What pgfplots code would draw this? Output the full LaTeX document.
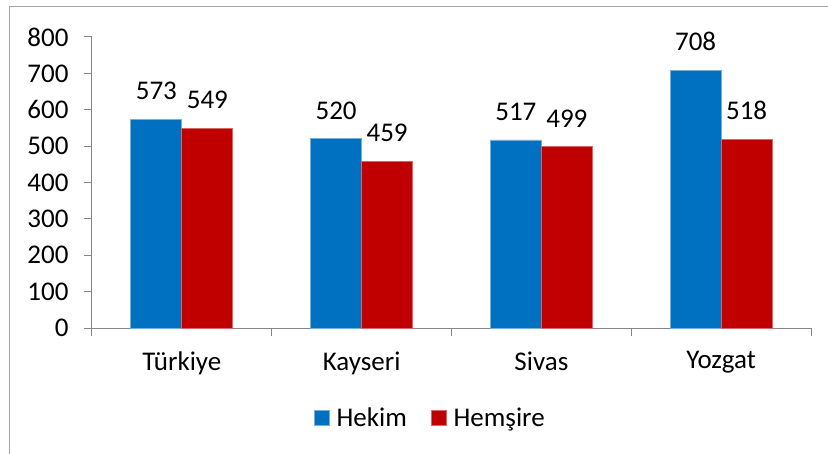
\documentclass[border=0pt]{standalone}
\usepackage{pgfplots}
\pgfplotsset{compat=1.18}
\usepackage{fontspec}
\setmainfont{Carlito}
\definecolor{hblue}{HTML}{0070C0}
\definecolor{hred}{HTML}{C00000}
\definecolor{axgray}{HTML}{868686}
\newcommand{\cfont}{\fontsize{27bp}{32bp}\selectfont}
\begin{document}
\begin{tikzpicture}
\begin{axis}[
  name=ax,
  width=719bp, height=291bp, scale only axis,
  xmin=-0.5, xmax=3.5, ymin=0, ymax=800,
  axis x line*=bottom, axis y line*=left,
  axis line style={axgray, line width=1bp},
  ytick={0,100,...,800},
  xtick={-0.5,0.5,1.5,2.5,3.5},
  x tick label as interval,
  xticklabels={Türkiye,Kayseri,Sivas,Yozgat},
  tick align=outside, major tick length=8bp,
  tick style={axgray, line width=1bp},
  /pgf/number format/assume math mode=true,
  tick label style={font=\cfont, black},
  y tick label style={xshift=-12bp},
  x tick label style={yshift=-12bp},
  ybar=0pt, bar width=51bp,
  nodes near coords,
  nodes near coords style={font=\cfont, black, inner sep=0pt, anchor=south, yshift=19bp},
  legend style={draw=none, fill=none, legend columns=2, at={(0.469,-0.309)}, anchor=center,
    font=\cfont, nodes={inner sep=0pt},
    /tikz/every odd column/.append style={column sep=7bp},
    /tikz/every even column/.append style={column sep=24bp}},
  legend image code/.code={\fill[#1] (0bp,-7.5bp) rectangle (15bp,7.5bp);},
]
\addplot[fill=hblue, draw=hblue!55!white, line width=0.8bp] coordinates {(0,573) (1,520) (2,517) (3,708)};
\addplot[fill=hred, draw=hred!60!white, line width=0.8bp] coordinates {(0,549) (1,459) (2,499) (3,518)};
\legend{Hekim, Hemşire}
\end{axis}
\pgfresetboundingbox
\path[use as bounding box] ([shift={(-92bp,-126bp)}]ax.south west) rectangle ([shift={(736bp,328bp)}]ax.south west);
\draw[axgray!75, line width=1bp] ([shift={(-82bp,-126bp)}]ax.south west) -- ([shift={(-82bp,321bp)}]ax.south west) -- ([shift={(736bp,321bp)}]ax.south west);
\end{tikzpicture}
\end{document}
